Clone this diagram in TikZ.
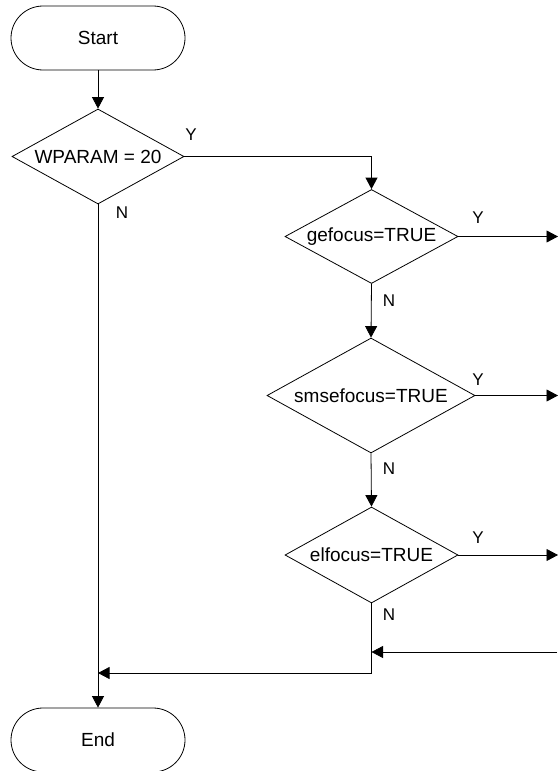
\documentclass[tikz,border=0pt]{standalone}
\usepackage{fontspec}
\setmainfont{Liberation Sans}
\usetikzlibrary{shapes.geometric,arrows.meta}

\begin{document}
\begin{tikzpicture}[x=1pt,y=-1pt,
  line width=0.8pt,
  terminal/.style={draw, rectangle, rounded corners=32pt, minimum width=174pt,
    minimum height=64pt, inner sep=0pt, font=\fontsize{19}{21}\selectfont},
  decision/.style={draw, diamond, inner sep=0pt, shape aspect=1.8,
    font=\fontsize{19}{21}\selectfont},
  flow/.style={-{Triangle[length=11.5pt,width=12pt]}},
  yn/.style={inner sep=0pt, font=\fontsize{17}{18}\selectfont}]

\useasboundingbox (0,0) rectangle (557,771);

% terminals
\node[terminal] (start) at (98,38) {Start};
\node[terminal] (end) at (98,740) {End};

% decisions
\node[decision, minimum width=172pt, minimum height=95pt] (d1) at (98,156.5) {WPARAM = 20};
\node[decision, minimum width=173pt, minimum height=94pt] (d2) at (371.5,236.5) {gefocus=TRUE};
\node[decision, minimum width=208pt, minimum height=115pt] (d3) at (371,395.5) {smsefocus=TRUE};
\node[decision, minimum width=173pt, minimum height=96pt] (d4) at (371.5,555) {elfocus=TRUE};

% free ends at the right edge and corner points
\coordinate (o2) at (558,236.5);
\coordinate (o3) at (558,395.5);
\coordinate (o4) at (558,555);
\coordinate (in) at (557,652);
\coordinate (j1) at (371.5,156.5);
\coordinate (j2) at (371.5,652);
\coordinate (j3) at (371.5,673);
\coordinate (j4) at (98,673);

% connectors
\draw[flow] (start) -- (d1);
\draw[flow] (d1.east) -- (j1) -- (d2.north);
\draw[flow] (d1.south) -- (end.north);
\draw[flow] (d2.south) -- (d3.north);
\draw[flow] (d3.south) -- (d4.north);
\draw[flow] (d2.east) -- (o2);
\draw[flow] (d3.east) -- (o3);
\draw[flow] (d4.east) -- (o4);
\draw[flow] (in) -- (j2);
\draw[flow] (d4.south) -- (j3) -- (j4);

% branch labels
\node[yn] (y1) at (191,135) {Y};
\node[yn] (n1) at (122,213) {N};
\node[yn] (y2) at (478,218) {Y};
\node[yn] (n2) at (389,301) {N};
\node[yn] (y3) at (478,380) {Y};
\node[yn] (n3) at (389,469) {N};
\node[yn] (y4) at (478,538) {Y};
\node[yn] (n4) at (389,615) {N};
\end{tikzpicture}
\end{document}
